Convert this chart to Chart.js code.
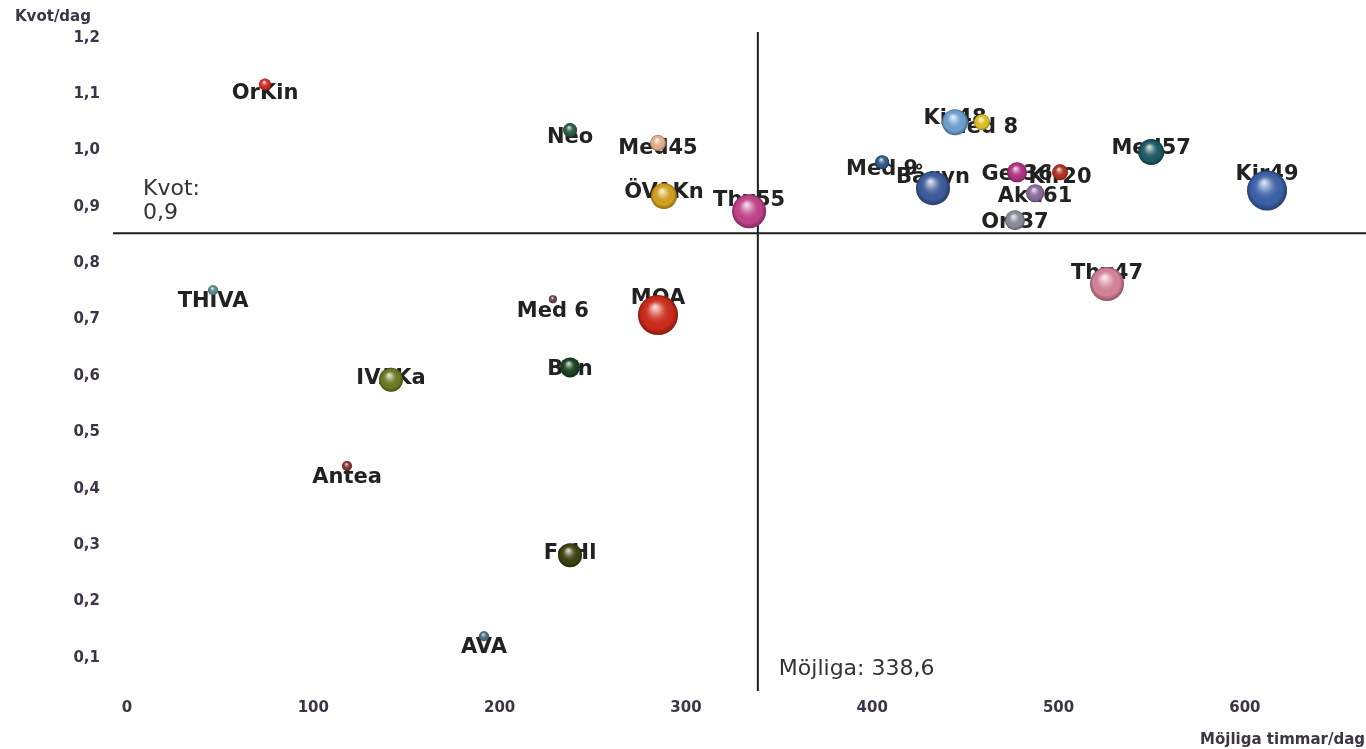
<!DOCTYPE html>
<html lang="sv">
<head>
<meta charset="utf-8">
<title>Kvot/dag mot möjliga timmar/dag</title>
<script src="https://cdn.jsdelivr.net/npm/chart.js@4.4.1/dist/chart.umd.min.js"></script>
<style>
  html, body { margin: 0; padding: 0; background: #fff; }
  #wrap { width: 1366px; height: 749px; position: relative; }
</style>
</head>
<body>
<div id="wrap"><canvas id="bubbleChart"></canvas></div>
<script>
// enheter och värden
const enheter = ['OrKin', 'Neo', 'Med45', 'ÖVAKn', 'Thx55', 'MOA', 'Med 6', 'THIVA', 'IVAKa', 'Bön',
  'Antea', 'FoHl', 'AVA', 'Kir48', 'Med 8', 'Med 9', 'Bågyn', 'Ger36', 'Kir20', 'Akd61', 'Ort37',
  'Med57', 'Kir49', 'Thx47'];
const mojliga = [74.1, 237.8, 285.0, 288.2, 333.9, 285.0, 228.6, 46.2, 141.7, 237.8,
  118.1, 237.8, 191.6, 444.4, 458.9, 405.3, 432.6, 477.7, 500.8, 487.4, 476.6,
  549.7, 611.9, 526.0];
const kvot = [1.117, 1.036, 1.013, 0.919, 0.892, 0.708, 0.736, 0.752, 0.593, 0.615,
  0.440, 0.282, 0.138, 1.050, 1.050, 0.979, 0.933, 0.961, 0.961, 0.924, 0.876,
  0.997, 0.929, 0.763];
const storlek = [6, 7, 8, 13, 17, 20, 4, 5, 12, 10,
  5, 12, 5, 13, 8, 7, 17, 10, 8, 9, 10,
  13, 20, 17];
const farger = ['#d22a22', '#2c5e44', '#e6b08e', '#d6a21e', '#c4438c', '#d02a1a', '#6a4444', '#5a8a88', '#6c7a22', '#1c4222',
  '#8a3030', '#3c4212', '#4a7080', '#6ea2d2', '#e2c224', '#2a5a8c', '#3c5c9c', '#b23282', '#b23222', '#8a6c9c', '#8c8c9c',
  '#1c5a62', '#3c62aa', '#d8849a'];
const xTicks = [0, 100, 200, 300, 400, 500, 600];
const yTicks = [0.1, 0.2, 0.3, 0.4, 0.5, 0.6, 0.7, 0.8, 0.9, 1.0, 1.1, 1.2];
const refMojliga = 338.6;
const refKvot = 0.853;

const komma = v => v.toString().replace('.', ',');

// referenslinjer och texter
const refLines = {
  id: 'refLines',
  beforeDatasetsDraw(chart) {
    const { ctx, chartArea: a, scales: { x, y } } = chart;
    const px = x.getPixelForValue(refMojliga);
    const py = y.getPixelForValue(refKvot);
    ctx.save();
    ctx.strokeStyle = '#1e1e1e';
    ctx.lineWidth = 2;
    ctx.beginPath();
    ctx.moveTo(px, a.top); ctx.lineTo(px, a.bottom);
    ctx.moveTo(a.left, py); ctx.lineTo(a.right, py);
    ctx.stroke();
    ctx.font = '22px "DejaVu Sans"';
    ctx.fillStyle = '#333';
    ctx.textBaseline = 'middle';
    ctx.textAlign = 'left';
    ctx.fillText('Kvot:', a.left + 30, py - 44);
    ctx.fillText(komma(refKvot.toFixed(1)), a.left + 30, py - 20);
    ctx.fillText('Möjliga: ' + komma(refMojliga), px + 21, a.bottom - 22);
    // axeltitlar
    ctx.font = 'bold 15px "DejaVu Sans"';
    ctx.fillStyle = '#3d3447';
    ctx.fillText('Kvot/dag', 15, 17);
    ctx.textAlign = 'right';
    ctx.fillText('Möjliga timmar/dag', chart.width - 1, chart.height - 9);
    ctx.restore();
  }
};

// etiketter bakom bubblorna
const bubbleLabels = {
  id: 'bubbleLabels',
  beforeDatasetsDraw(chart) {
    const { ctx } = chart;
    const meta = chart.getDatasetMeta(0);
    ctx.save();
    ctx.font = 'bold 21px "DejaVu Sans"';
    ctx.fillStyle = '#222';
    ctx.textAlign = 'center';
    ctx.textBaseline = 'middle';
    meta.data.forEach((el, i) => {
      const r = storlek[i];
      ctx.fillText(enheter[i], el.x, el.y + 20 - 1.8 * r);
    });
    ctx.restore();
  }
};

// 3D-glans på bubblorna
const shine = {
  id: 'shine',
  afterDatasetsDraw(chart) {
    const { ctx } = chart;
    const meta = chart.getDatasetMeta(0);
    ctx.save();
    meta.data.forEach((el, i) => {
      const r = storlek[i];
      const g = ctx.createRadialGradient(el.x - r * 0.15, el.y - r * 0.4, r * 0.05, el.x, el.y, r);
      g.addColorStop(0, 'rgba(255,255,255,0.8)');
      g.addColorStop(0.35, 'rgba(255,255,255,0.2)');
      g.addColorStop(0.75, 'rgba(0,0,0,0)');
      g.addColorStop(1, 'rgba(0,0,0,0.35)');
      ctx.beginPath();
      ctx.arc(el.x, el.y, r, 0, Math.PI * 2);
      ctx.fillStyle = g;
      ctx.fill();
    });
    ctx.restore();
  }
};

const ctx = document.getElementById('bubbleChart').getContext('2d');
new Chart(ctx, {
  type: 'bubble',
  data: {
    datasets: [{
      data: enheter.map((n, i) => ({ x: mojliga[i], y: kvot[i], r: storlek[i] })),
      backgroundColor: farger,
      borderWidth: 0,
      hoverRadius: 0,
      clip: false
    }]
  },
  options: {
    responsive: true,
    maintainAspectRatio: false,
    animation: false,
    layout: { autoPadding: false, padding: { top: 32, left: 0, right: 0, bottom: 0 } },
    plugins: { legend: { display: false }, tooltip: { enabled: false } },
    scales: {
      x: {
        type: 'linear', min: -7.5, max: 665,
        grid: { display: false, drawTicks: false },
        border: { display: false },
        afterBuildTicks: s => { s.ticks = xTicks.map(v => ({ value: v })); },
        afterFit: s => { s.height = 58; s.paddingLeft = 0; s.paddingRight = 0; },
        ticks: { padding: 8, color: '#3d3447', font: { family: 'DejaVu Sans', size: 15, weight: 'bold' } }
      },
      y: {
        type: 'linear', min: 0.041, max: 1.21,
        grid: { display: false, drawTicks: false },
        border: { display: false },
        afterBuildTicks: s => { s.ticks = yTicks.map(v => ({ value: v })); },
        afterFit: s => { s.width = 113; s.paddingTop = 0; s.paddingBottom = 0; },
        ticks: {
          padding: 13, color: '#3d3447', font: { family: 'DejaVu Sans', size: 15, weight: 'bold' },
          callback: v => komma(v.toFixed(1))
        }
      }
    }
  },
  plugins: [refLines, bubbleLabels, shine]
});
</script>
</body>
</html>
